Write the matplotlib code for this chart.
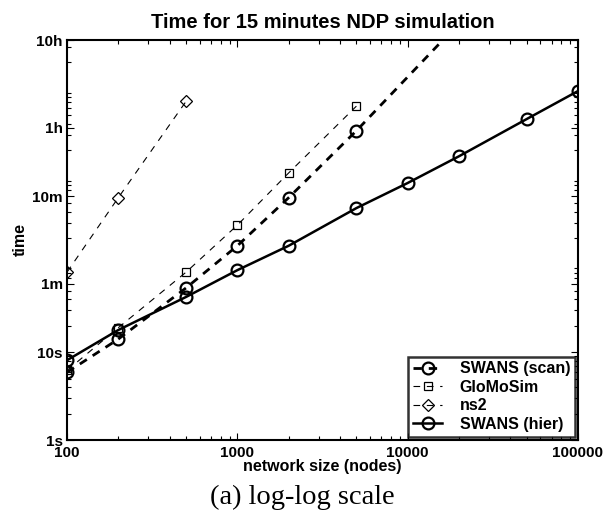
import matplotlib
matplotlib.use("Agg")
import matplotlib.pyplot as plt
from matplotlib.ticker import LogLocator, NullFormatter, FixedLocator

# data (seconds)
scan_n = [100, 200, 500, 1000, 2000, 5000, 20000]
scan_t = [5.9, 14.1, 54, 163, 575, 3330, 56000]
glomo_n = [100, 200, 500, 1000, 2000, 5000]
glomo_t = [6.2, 19, 81.6, 280, 1100, 6350]
ns2_n = [100, 200, 500]
ns2_t = [81.6, 575, 7200]
hier_n = [100, 200, 500, 1000, 2000, 5000, 10000, 20000, 50000, 100000]
hier_t = [8.1, 17.9, 42.6, 86, 163, 438, 846, 1705, 4530, 9440]

ytick_vals = [1, 10, 60, 600, 3600, 36000]
ytick_labels = ["1s", "10s", "1m", "10m", "1h", "10h"]
xtick_vals = [100, 1000, 10000, 100000]
xtick_labels = ["100", "1000", "10000", "100000"]

plt.rcParams['font.family'] = ['Liberation Sans', 'DejaVu Sans']
plt.rcParams['font.weight'] = 'bold'

fig = plt.figure(figsize=(6.05, 5.22), dpi=100)
ax = fig.add_axes([67/605, 82/522, 511/605, 400/522])

ax.plot(scan_n, scan_t, linestyle=(0, (3, 2.5)), color='k', lw=2.0,
        marker='o', ms=8.5, mfc='none', mec='k', mew=1.6, label='SWANS (scan)')
ax.plot(glomo_n, glomo_t, linestyle=(0, (6, 6)), color='k', lw=0.8,
        marker='s', ms=5.5, mfc='none', mec='k', mew=0.9, label='GloMoSim')
ax.plot(ns2_n, ns2_t, linestyle=(0, (6, 6)), color='k', lw=0.8,
        marker='D', ms=6.5, mfc='none', mec='k', mew=0.9, label='ns2')
ax.plot(hier_n, hier_t, linestyle='-', color='k', lw=1.8,
        marker='o', ms=8.5, mfc='none', mec='k', mew=1.6, label='SWANS (hier)')

ax.set_xscale('log')
ax.set_yscale('log')
ax.set_xlim(100, 100000)
ax.set_ylim(1, 36000)

ax.yaxis.set_major_locator(FixedLocator(ytick_vals))
ax.set_yticklabels(ytick_labels)
ax.yaxis.set_minor_locator(LogLocator(base=10, subs=range(2, 10)))
ax.yaxis.set_minor_formatter(NullFormatter())
ax.xaxis.set_major_locator(FixedLocator(xtick_vals))
ax.set_xticklabels(xtick_labels)
ax.xaxis.set_minor_locator(LogLocator(base=10, subs=range(2, 10)))
ax.xaxis.set_minor_formatter(NullFormatter())

ax.tick_params(which='both', direction='in', top=True, right=True, width=0.8)
ax.tick_params(which='major', length=5, labelsize=11, pad=3)
ax.tick_params(axis='x', which='major', pad=4.5)
ax.tick_params(which='minor', length=3)
for lab in ax.get_xticklabels() + ax.get_yticklabels():
    lab.set_fontweight('bold')
for s in ax.spines.values():
    s.set_linewidth(1.5)

ax.set_title('Time for 15 minutes NDP simulation', fontsize=14.5, fontweight='bold', pad=9)
ax.set_xlabel('network size (nodes)', fontsize=11.5, fontweight='bold', labelpad=-1)
ax.set_ylabel('time', fontsize=11.5, fontweight='bold', labelpad=3)

leg = ax.legend(loc='lower right', fontsize=11.5, frameon=True, fancybox=False,
                edgecolor='k', borderaxespad=0.2, handlelength=1.8,
                handletextpad=1.1, labelspacing=0.22, borderpad=0.3)
leg.get_frame().set_linewidth(1.8)
for t in leg.get_texts():
    t.set_fontweight('bold')

fig.text(0.5, 25/522, '(a) log-log scale', ha='center', va='center',
         fontsize=20.5, family=['Liberation Serif', 'DejaVu Serif'], fontweight='normal')

fig.savefig('out.png', dpi=100)
